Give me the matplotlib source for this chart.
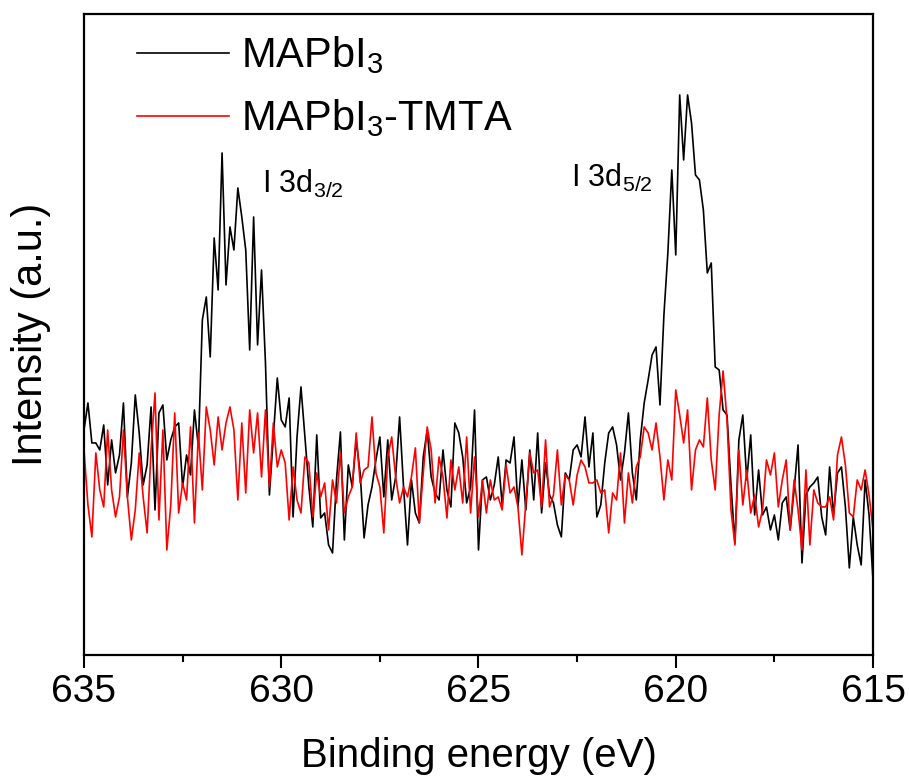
import matplotlib
matplotlib.use('Agg')
import matplotlib.pyplot as plt
import numpy as np

plt.rcParams['font.family'] = ['Liberation Sans', 'DejaVu Sans']
plt.rcParams['mathtext.fontset'] = 'custom'
plt.rcParams['mathtext.rm'] = 'Liberation Sans'
plt.rcParams['mathtext.default'] = 'regular'

# binding energy grid (eV), 0.1 eV step
energy = np.round(np.arange(635.0, 614.95, -0.1), 2)

# MAPbI3 intensity (a.u.)
mapbi3 = [
    225, 252, 212, 212, 205, 230, 170, 215, 182, 200,
    252, 158, 192, 260, 222, 170, 190, 248, 145, 242,
    250, 195, 215, 228, 232, 168, 200, 180, 245, 208,
    335, 358, 298, 417, 365, 502, 370, 428, 405, 467,
    438, 405, 305, 438, 310, 385, 292, 160, 218, 277,
    235, 228, 257, 138, 218, 268, 218, 168, 128, 220,
    137, 142, 110, 102, 175, 223, 115, 190, 168, 215,
    182, 117, 150, 168, 195, 218, 158, 215, 155, 178,
    238, 168, 110, 175, 142, 132, 198, 225, 178, 162,
    155, 205, 165, 148, 232, 222, 198, 152, 168, 245,
    105, 175, 178, 155, 170, 198, 150, 195, 192, 218,
    148, 195, 145, 205, 155, 222, 142, 192, 160, 152,
    130, 118, 182, 175, 205, 210, 198, 238, 188, 222,
    138, 150, 192, 222, 228, 210, 175, 202, 242, 182,
    155, 215, 252, 275, 300, 308, 250, 340, 402, 485,
    400, 560, 495, 560, 532, 480, 475, 445, 382, 392,
    288, 285, 245, 240, 170, 112, 215, 240, 175, 220,
    140, 185, 140, 148, 125, 140, 115, 152, 158, 125,
    165, 210, 92, 160, 168, 172, 178, 138, 120, 188,
    140, 182, 188, 148, 87, 138, 110, 90, 175, 140, 75,
]

# MAPbI3-TMTA intensity (a.u.)
mapbi3_tmta = [
    205, 150, 118, 202, 165, 148, 225, 165, 138, 158,
    225, 158, 115, 145, 202, 158, 122, 205, 262, 135,
    225, 105, 150, 242, 142, 172, 155, 228, 132, 222,
    165, 248, 225, 190, 238, 205, 232, 248, 225, 155,
    232, 162, 245, 202, 242, 178, 245, 168, 232, 188,
    205, 192, 135, 188, 155, 142, 198, 192, 138, 182,
    158, 172, 125, 175, 152, 202, 142, 158, 168, 222,
    172, 185, 188, 238, 182, 168, 122, 198, 218, 178,
    152, 168, 158, 178, 207, 132, 182, 228, 205, 152,
    198, 178, 137, 195, 165, 188, 152, 218, 142, 198,
    138, 175, 142, 175, 155, 158, 145, 190, 162, 168,
    148, 100, 152, 202, 182, 185, 148, 215, 148, 160,
    205, 150, 180, 175, 150, 180, 195, 188, 172, 172,
    175, 162, 165, 122, 162, 155, 202, 132, 182, 152,
    188, 198, 228, 222, 205, 232, 198, 155, 195, 175,
    265, 240, 212, 245, 165, 205, 215, 208, 257, 195,
    165, 240, 284, 235, 145, 110, 205, 150, 185, 142,
    160, 128, 145, 195, 180, 202, 148, 175, 195, 125,
    175, 145, 105, 185, 110, 165, 152, 148, 148, 158,
    135, 200, 218, 190, 142, 138, 175, 165, 185, 160, 125,
]

fig = plt.figure(figsize=(9.09, 7.76), dpi=100)
ax = fig.add_axes([0.0924, 0.156, 0.868, 0.826])

ax.plot(energy, mapbi3, color='black', lw=1.2, label='MAPbI$_3$')
ax.plot(energy, mapbi3_tmta, color='red', lw=1.2, label='MAPbI$_3$-TMTA')

ax.set_xlim(635, 615)
ax.set_ylim(0, 641)
ax.set_xticks([635, 630, 625, 620, 615])
ax.set_xticks([632.5, 627.5, 622.5, 617.5], minor=True)
ax.set_yticks([])
ax.tick_params(axis='x', which='major', direction='out', length=9, width=1.5,
               labelsize=28, pad=5)
ax.tick_params(axis='x', which='minor', direction='out', length=5, width=1.5)
for sp in ax.spines.values():
    sp.set_linewidth(1.6)

ax.set_xlabel('Binding energy (eV)', fontsize=29, labelpad=19)
ax.set_ylabel('Intensity (a.u.)', fontsize=30, labelpad=24)

ax.text(630.48, 462, 'I 3d$_{3/2}$', fontsize=22, va='baseline', ha='left')
ax.text(622.66, 468, 'I 3d$_{5/2}$', fontsize=22, va='baseline', ha='left')

ax.legend(loc='upper left', bbox_to_anchor=(0.067, 0.968), frameon=False,
          fontsize=30, handlelength=2.2, handletextpad=0.3, borderpad=0,
          borderaxespad=0, labelspacing=0.5)

fig.savefig('out.png', dpi=100)
